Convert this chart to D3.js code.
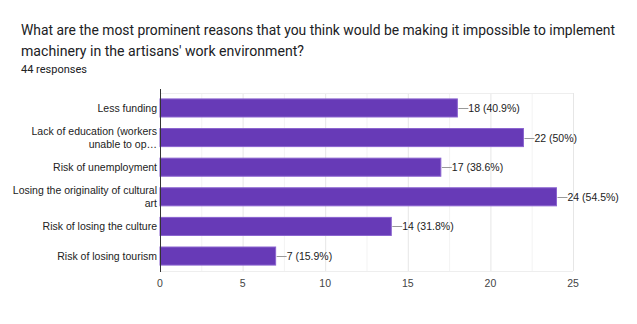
<!DOCTYPE html>
<html><head><meta charset="utf-8">
<script src="https://cdn.jsdelivr.net/npm/d3@7"></script>
<style>body{margin:0;background:#fff;}svg{display:block;font-family:"Liberation Sans", Arial, sans-serif;}</style>
</head><body>
<svg id="c" width="637" height="324"></svg>
<script>
const categories = [
  ["Less funding"],
  ["Lack of education (workers", "unable to op\u2026"],
  ["Risk of unemployment"],
  ["Losing the originality of cultural", "art"],
  ["Risk of losing the culture"],
  ["Risk of losing tourism"]
];
const counts = [18, 22, 17, 24, 14, 7];
const percents = ["40.9%", "50%", "38.6%", "54.5%", "31.8%", "15.9%"];
const xTicks = [0, 5, 10, 15, 20, 25];
const titleLines = ["What are the most prominent reasons that you think would be making it impossible to implement", "machinery in the artisans' work environment?"];
const subtitle = "44 responses";

const svg = d3.select("#c");
const pLeft = 160, pRight = 573, pTop = 93, pBottom = 271;
const x = d3.scaleLinear().domain([0, 25]).range([pLeft, pRight]);
const y = d3.scaleBand().domain(d3.range(categories.length)).range([pTop, pBottom]).paddingInner(0.39).paddingOuter(0.2);

const titleWidths = [594, 283];
svg.selectAll("text.title").data(titleLines).join("text")
  .attr("x", 21).attr("y", (d, i) => 35 + i * 21)
  .attr("font-family", "Roboto, sans-serif")
  .attr("font-size", 13.9).attr("fill", "#202124")
  .attr("textLength", (d, i) => titleWidths[i]).attr("lengthAdjust", "spacingAndGlyphs")
  .text(d => d);
svg.append("text").attr("x", 21).attr("y", 73).attr("font-family", "Roboto, sans-serif")
  .attr("font-size", 11).attr("fill", "#202124").text(subtitle);

// grid
const minor = d3.range(0, 25.01, 2.5);
svg.selectAll("line.grid").data(minor).join("line")
  .attr("x1", d => x(d) + 0.5).attr("x2", d => x(d) + 0.5).attr("y1", pTop).attr("y2", pBottom)
  .attr("stroke", d => d % 5 === 0 ? "#e6e6e6" : "#f3f3f3").attr("stroke-width", 1);
svg.append("line").attr("x1", pLeft).attr("x2", pRight).attr("y1", pTop + 0.5).attr("y2", pTop + 0.5).attr("stroke", "#eeeeee");
svg.append("line").attr("x1", pLeft).attr("x2", pRight).attr("y1", pBottom + 0.5).attr("y2", pBottom + 0.5).attr("stroke", "#eeeeee");

// bars
svg.selectAll("rect.bar").data(counts).join("rect")
  .attr("x", x(0)).attr("y", (d, i) => y(i)).attr("width", d => x(d) - x(0)).attr("height", y.bandwidth())
  .attr("fill", "#673ab7").attr("stroke", "#8a63cf").attr("stroke-width", 1);

// axis line
svg.append("line").attr("x1", pLeft + 0.5).attr("x2", pLeft + 0.5).attr("y1", pTop - 4).attr("y2", pBottom + 1).attr("stroke", "#333").attr("stroke-width", 1);

// value labels
counts.forEach((d, i) => {
  const cy = y(i) + y.bandwidth() / 2;
  svg.append("line").attr("x1", x(d) + 1).attr("x2", x(d) + 11).attr("y1", Math.round(cy) + 0.5).attr("y2", Math.round(cy) + 0.5).attr("stroke", "#999");
  svg.append("text").attr("x", x(d) + 11).attr("y", cy + 4).attr("font-size", 10.5).attr("fill", "#222")
    .text(`${d} (${percents[i]})`);
});

// category labels
categories.forEach((lines, i) => {
  const cy = y(i) + y.bandwidth() / 2;
  const n = lines.length;
  lines.forEach((t, j) => {
    svg.append("text").attr("x", pLeft - 3).attr("y", cy + 4 + (j - (n - 1) / 2) * 13)
      .attr("text-anchor", "end").attr("font-size", 10.5).attr("fill", "#222").text(t);
  });
});

// x tick labels
svg.selectAll("text.xt").data(xTicks).join("text")
  .attr("x", d => x(d)).attr("y", 287).attr("text-anchor", "middle")
  .attr("font-size", 10.5).attr("fill", "#444").text(d => d);
</script>
</body></html>
